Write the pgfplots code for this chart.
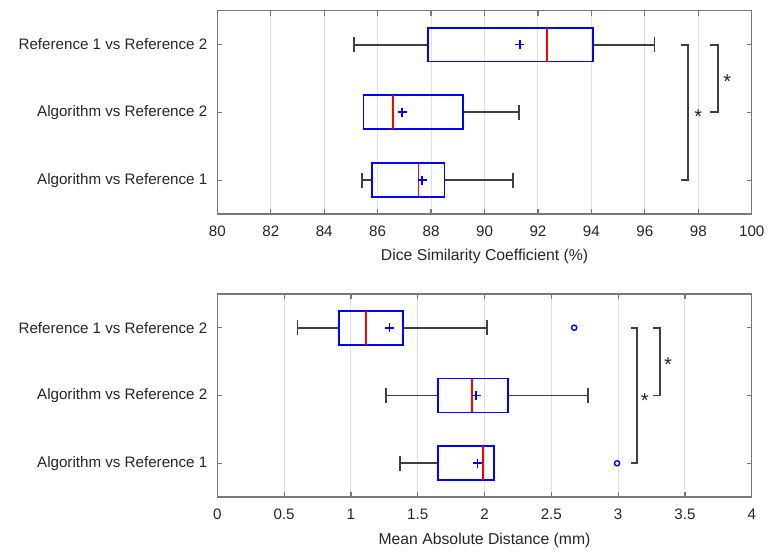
\documentclass[border=0pt]{standalone}
\usepackage{pgfplots}
\pgfplotsset{compat=1.18}
\usepgfplotslibrary{statistics}
\usepackage{fontspec}
\setmainfont{Liberation Sans}

\definecolor{mblue}{RGB}{0,0,255}
\definecolor{axgray}{RGB}{120,120,120}
\definecolor{txt}{RGB}{38,38,38}

\tikzset{st/.style={font=\fontsize{10}{10}\selectfont, text=txt}}

\pgfplotsset{
  mybox/.style={
    width=268pt, height=102pt, scale only axis,
    font=\fontsize{7.6}{9}\selectfont,
    /pgf/number format/assume math mode=true,
    ymin=0.5, ymax=3.5,
    ytick={1,2,3},
    yticklabels={Algorithm vs Reference 1,Algorithm vs Reference 2,Reference 1 vs Reference 2},
    tick align=inside, tick pos=both,
    major tick length=2.5pt,
    axis line style={axgray, line width=0.7pt},
    every tick/.style={axgray, line width=0.6pt},
    tick label style={txt},
    xticklabel style={yshift=-2.5pt},
    yticklabel style={xshift=-1.5pt},
    xlabel style={txt, font=\fontsize{7.9}{9}\selectfont, yshift=0.5pt},
    xmajorgrids, grid style={black!12, line width=0.5pt},
    boxplot/draw direction=x,
    boxplot/box extend=0.5,
    boxplot/whisker extend=0.22,
    boxplot/every box/.style={draw=mblue, line width=0.95pt},
    boxplot/every whisker/.style={draw=black!75, line width=0.95pt},
    boxplot/every median/.style={draw=red, line width=0.95pt},
    clip=false,
  },
  bx/.style={mblue, line width=0.95pt, mark=o, mark size=1.3pt, mark options={mblue, line width=0.7pt}},
  br/.style={black!75, line width=0.95pt, no marks},
  mn/.style={only marks, mark=+, mark size=2.2pt, mblue, mark options={line width=0.9pt}},
}

\begin{document}
\begin{tikzpicture}
% Dice similarity coefficient
\begin{axis}[mybox, xmin=80, xmax=100, xtick={80,82,...,100},
  xlabel={Dice Similarity Coefficient (\%)}]
\addplot[bx, boxplot prepared={draw position=3, lower whisker=85.13, lower quartile=87.89,
  median=92.35, upper quartile=94.05, upper whisker=96.36}]
  coordinates {};
\addplot[bx, boxplot prepared={draw position=2, lower whisker=85.47, lower quartile=85.47,
  median=86.59, upper quartile=89.18, upper whisker=91.28}]
  coordinates {};
\addplot[bx, boxplot prepared={draw position=1, lower whisker=85.43, lower quartile=85.79,
  median=87.53, upper quartile=88.50, upper whisker=91.05}]
  coordinates {};
\addplot[mn] coordinates {(91.32,3) (86.92,2) (87.67,1)};
\addplot[br] coordinates {(97.36,1) (97.63,1) (97.63,3) (97.36,3)};
\addplot[br] coordinates {(98.45,2) (98.74,2) (98.74,3) (98.45,3)};
\node[st] at (axis cs:98.0,1.93) {*};
\node[st] at (axis cs:99.08,2.45) {*};
\end{axis}

% Mean absolute distance
\begin{axis}[mybox, at={(0,-142pt)}, xmin=0, xmax=4, xtick={0,0.5,...,4},
  xlabel={Mean Absolute Distance (mm)}]
\addplot[bx, boxplot prepared={draw position=3, lower whisker=0.60, lower quartile=0.912,
  median=1.111, upper quartile=1.387, upper whisker=2.016}]
  coordinates {(0,2.671)};
\addplot[bx, boxplot prepared={draw position=2, lower whisker=1.263, lower quartile=1.650,
  median=1.905, upper quartile=2.175, upper whisker=2.775}]
  coordinates {};
\addplot[bx, boxplot prepared={draw position=1, lower whisker=1.369, lower quartile=1.650,
  median=1.987, upper quartile=2.069, upper whisker=2.069}]
  coordinates {(0,2.992)};
\addplot[mn] coordinates {(1.289,3) (1.939,2) (1.947,1)};
\addplot[br] coordinates {(3.095,1) (3.143,1) (3.143,3) (3.095,3)};
\addplot[br] coordinates {(3.26,2) (3.316,2) (3.316,3) (3.26,3)};
\node[st] at (axis cs:3.20,1.93) {*};
\node[st] at (axis cs:3.374,2.45) {*};
\end{axis}
\path ([yshift=5pt]current bounding box.north) -- ([xshift=-6pt]current bounding box.west);
\end{tikzpicture}
\end{document}
